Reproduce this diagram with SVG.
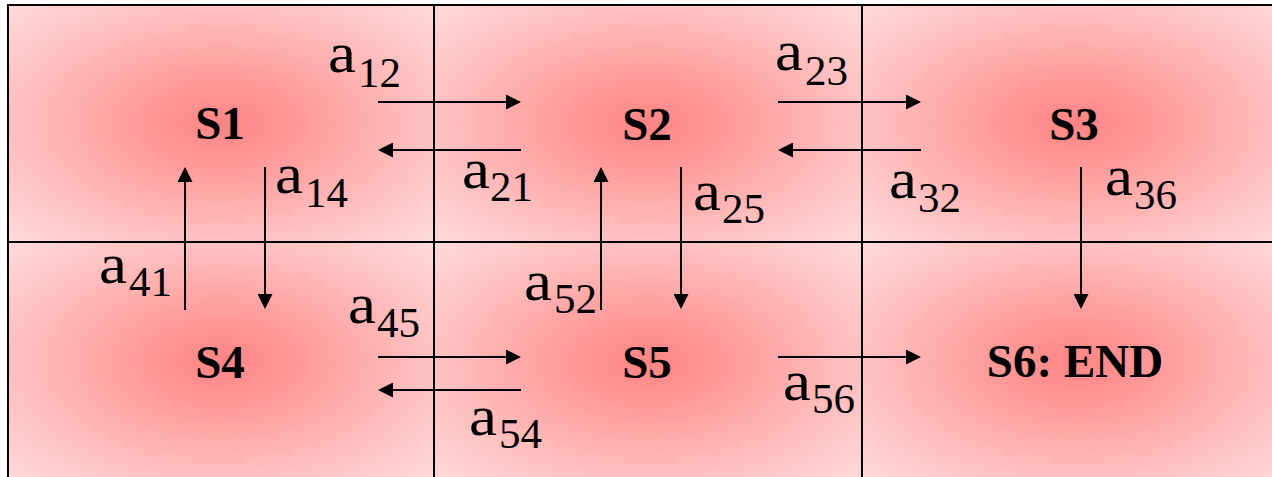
<svg xmlns="http://www.w3.org/2000/svg" width="1272" height="477" viewBox="0 0 1272 477">
  <style>
    .cell { stroke: #000; stroke-width: 2; }
    .st { font-family: "Liberation Serif", "Times New Roman", serif; font-weight: bold; font-size: 47px; text-anchor: middle; fill: #000; }
    .lbl { font-family: "Liberation Serif", "Times New Roman", serif; font-size: 58px; fill: #000; }
    .sub { font-family: "Liberation Serif", "Times New Roman", serif; font-size: 43px; fill: #000; }
    .edge { stroke: #000; stroke-width: 2; fill: none; marker-end: url(#ah); }
  </style>
  <defs>
    <radialGradient id="cellgrad" cx="0.5" cy="0.5" r="0.72">
      <stop offset="0" stop-color="#ff8484"/>
      <stop offset="0.3" stop-color="#ff9d9d"/>
      <stop offset="0.65" stop-color="#ffbfbf"/>
      <stop offset="1" stop-color="#ffdcdc"/>
    </radialGradient>
    <marker id="ah" viewBox="0 0 15 15" refX="5" refY="7.5" markerWidth="15" markerHeight="15" markerUnits="userSpaceOnUse" orient="auto">
      <path d="M0,0 L15,7.5 L0,15 z" fill="#000"/>
    </marker>
  </defs>
  <rect width="1272" height="477" fill="#fff"/>

  <g id="S1">
    <rect class="cell" x="8" y="5" width="426" height="237" fill="url(#cellgrad)"/>
    <text class="st" x="220" y="139">S1</text>
  </g>
  <g id="S2">
    <rect class="cell" x="434" y="5" width="428" height="237" fill="url(#cellgrad)"/>
    <text class="st" x="647" y="140">S2</text>
  </g>
  <g id="S3">
    <rect class="cell" x="862" y="5" width="427" height="237" fill="url(#cellgrad)"/>
    <text class="st" x="1074" y="140">S3</text>
  </g>
  <g id="S4">
    <rect class="cell" x="8" y="242" width="426" height="240" fill="url(#cellgrad)"/>
    <text class="st" x="220" y="378">S4</text>
  </g>
  <g id="S5">
    <rect class="cell" x="434" y="242" width="428" height="240" fill="url(#cellgrad)"/>
    <text class="st" x="647" y="378">S5</text>
  </g>
  <g id="S6">
    <rect class="cell" x="862" y="242" width="427" height="240" fill="url(#cellgrad)"/>
    <text class="st" x="1075" y="377">S6: END</text>
  </g>

  <g id="connectors">
    <line class="edge" x1="378" y1="102" x2="511" y2="102"/>
    <line class="edge" x1="521" y1="150" x2="388" y2="150"/>
    <line class="edge" x1="778" y1="102" x2="911" y2="102"/>
    <line class="edge" x1="921" y1="150" x2="788" y2="150"/>
    <line class="edge" x1="265" y1="167" x2="265" y2="299"/>
    <line class="edge" x1="185" y1="310" x2="185" y2="177"/>
    <line class="edge" x1="601" y1="310" x2="601" y2="177"/>
    <line class="edge" x1="681" y1="167" x2="681" y2="299"/>
    <line class="edge" x1="1081" y1="167" x2="1081" y2="299"/>
    <line class="edge" x1="378" y1="357" x2="511" y2="357"/>
    <line class="edge" x1="521" y1="390" x2="388" y2="390"/>
    <line class="edge" x1="778" y1="357" x2="911" y2="357"/>

    <g id="labels">
      <text class="lbl" x="328" y="72" textLength="28" lengthAdjust="spacingAndGlyphs">a</text><text class="sub" x="358" y="87">12</text>
      <text class="lbl" x="275" y="193" textLength="28" lengthAdjust="spacingAndGlyphs">a</text><text class="sub" x="305" y="207">14</text>
      <text class="lbl" x="462" y="188" textLength="28" lengthAdjust="spacingAndGlyphs">a</text><text class="sub" x="490" y="201">21</text>
      <text class="lbl" x="775" y="70" textLength="28" lengthAdjust="spacingAndGlyphs">a</text><text class="sub" x="805" y="85">23</text>
      <text class="lbl" x="693" y="210" textLength="28" lengthAdjust="spacingAndGlyphs">a</text><text class="sub" x="722" y="223">25</text>
      <text class="lbl" x="889" y="198" textLength="28" lengthAdjust="spacingAndGlyphs">a</text><text class="sub" x="918" y="212">32</text>
      <text class="lbl" x="1105" y="195" textLength="28" lengthAdjust="spacingAndGlyphs">a</text><text class="sub" x="1134" y="209">36</text>
      <text class="lbl" x="99" y="283" textLength="28" lengthAdjust="spacingAndGlyphs">a</text><text class="sub" x="129" y="296">41</text>
      <text class="lbl" x="348" y="323" textLength="28" lengthAdjust="spacingAndGlyphs">a</text><text class="sub" x="377" y="337">45</text>
      <text class="lbl" x="524" y="300" textLength="28" lengthAdjust="spacingAndGlyphs">a</text><text class="sub" x="554" y="313">52</text>
      <text class="lbl" x="469" y="435" textLength="28" lengthAdjust="spacingAndGlyphs">a</text><text class="sub" x="499" y="448">54</text>
      <text class="lbl" x="783" y="400" textLength="28" lengthAdjust="spacingAndGlyphs">a</text><text class="sub" x="812" y="413">56</text>
    </g>
  </g>
</svg>
